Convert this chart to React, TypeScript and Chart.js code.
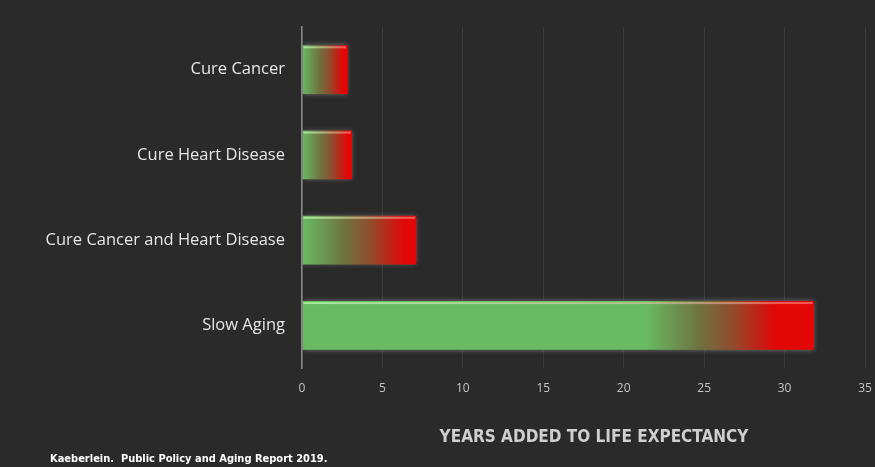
import React, { useEffect, useRef } from "react";
import { Chart, registerables } from "chart.js";

Chart.register(...registerables);

const categories = ["Cure Cancer", "Cure Heart Disease", "Cure Cancer and Heart Disease", "Slow Aging"];
const yearsAdded = [2.8, 3.1, 7.1, 31.8];
const xTicks = [0, 5, 10, 15, 20, 25, 30, 35];
const axisTitle = "YEARS ADDED TO LIFE EXPECTANCY";
const sourceNote = "Kaeberlein.  Public Policy and Aging Report 2019.";

const BG = "#2a2a2a";
const GREEN = "#69bb63";
const RED = "#e30606";

const barFx = {
  id: "barFx",
  beforeDatasetDraw(chart: any) {
    const ctx = chart.ctx;
    ctx.save();
    ctx.shadowColor = "rgba(125,125,125,0.9)";
    ctx.shadowBlur = 5;
  },
  afterDatasetDraw(chart: any, args: any) {
    const ctx = chart.ctx;
    ctx.restore();
    const meta = args.meta;
    ctx.save();
    meta.data.forEach((el: any) => {
      const top = el.y - el.height / 2;
      const g = ctx.createLinearGradient(el.base, 0, el.x, 0);
      g.addColorStop(0, "rgba(190,255,180,0.7)");
      g.addColorStop(1, "rgba(255,170,160,0.5)");
      ctx.fillStyle = g;
      ctx.fillRect(el.base + 1, top + 1, el.x - el.base - 2, 2);
    });
    ctx.restore();
  },
};

const textFx = {
  id: "textFx",
  afterDraw(chart: any) {
    const ctx = chart.ctx;
    ctx.save();
    ctx.textBaseline = "middle";
    ctx.textAlign = "center";
    ctx.fillStyle = "#cfcfcf";
    ctx.font = 'bold 17px "DejaVu Sans Condensed", "Liberation Sans Narrow", sans-serif';
    ctx.fillText(axisTitle, 594, 438);
    ctx.textAlign = "left";
    ctx.fillStyle = "#ffffff";
    ctx.font = 'bold 11px "DejaVu Sans Condensed", "Liberation Sans Narrow", sans-serif';
    ctx.fillText(sourceNote, 50, 459);
    ctx.restore();
  },
};

export default function App() {
  const ref = useRef<HTMLCanvasElement | null>(null);
  useEffect(() => {
    document.body.style.margin = "0";
    document.body.style.background = BG;
    const canvas = ref.current!;
    const chart = new Chart(canvas, {
      type: "bar",
      data: {
        labels: categories,
        datasets: [
          {
            data: yearsAdded,
            backgroundColor: (c: any) => {
              const ch = c.chart;
              if (!ch.chartArea || !ch.scales.x) return GREEN;
              const x0 = ch.scales.x.getPixelForValue(0);
              const x1 = ch.scales.x.getPixelForValue(c.raw);
              const w = Math.max(1, x1 - x0);
              const gEnd = Math.max(0, (w - 168) / w);
              const rStart = Math.max(0.9, (w - 38) / w);
              const g = ch.ctx.createLinearGradient(x0, 0, x1, 0);
              g.addColorStop(0, GREEN);
              g.addColorStop(gEnd, GREEN);
              g.addColorStop(gEnd + (rStart - gEnd) * 0.4, "#6f7442");
              g.addColorStop(gEnd + (rStart - gEnd) * 0.65, "#8e4f2e");
              g.addColorStop(rStart, RED);
              g.addColorStop(1, RED);
              return g;
            },
            borderWidth: 0,
            categoryPercentage: 1,
            barPercentage: 0.57,
          },
        ],
      },
      options: {
        indexAxis: "y",
        responsive: false,
        animation: false,
        layout: { padding: { top: 27, right: 0, left: 0, bottom: 0 } },
        plugins: { legend: { display: false }, tooltip: { enabled: false } },
        scales: {
          x: {
            min: 0,
            max: 35,
            afterBuildTicks: (s: any) => {
              s.ticks = xTicks.map((v) => ({ value: v }));
            },
            afterFit: (s: any) => {
              s.height = 99;
              s.paddingRight = 10;
            },
            grid: { color: "#3b3b3b", lineWidth: 1, drawTicks: false },
            border: { display: false },
            ticks: {
              color: "#c4c4c4",
              padding: 13,
              font: { family: '"Open Sans", sans-serif', size: 12 },
            },
          },
          y: {
            afterFit: (s: any) => {
              s.width = 302;
            },
            grid: { display: false, drawTicks: false },
            border: { display: true, color: "#8a8a8a", width: 1.5 },
            ticks: {
              color: "#e6e6e6",
              padding: 17,
              font: { family: '"Open Sans", sans-serif', size: 16.5 },
            },
          },
        },
      },
      plugins: [barFx, textFx],
    } as any);
    return () => chart.destroy();
  }, []);
  return (
    <div style={{ width: 875, height: 467, background: BG, position: "relative" }}>
      <canvas ref={ref} width={875} height={467} style={{ display: "block" }} />
    </div>
  );
}
